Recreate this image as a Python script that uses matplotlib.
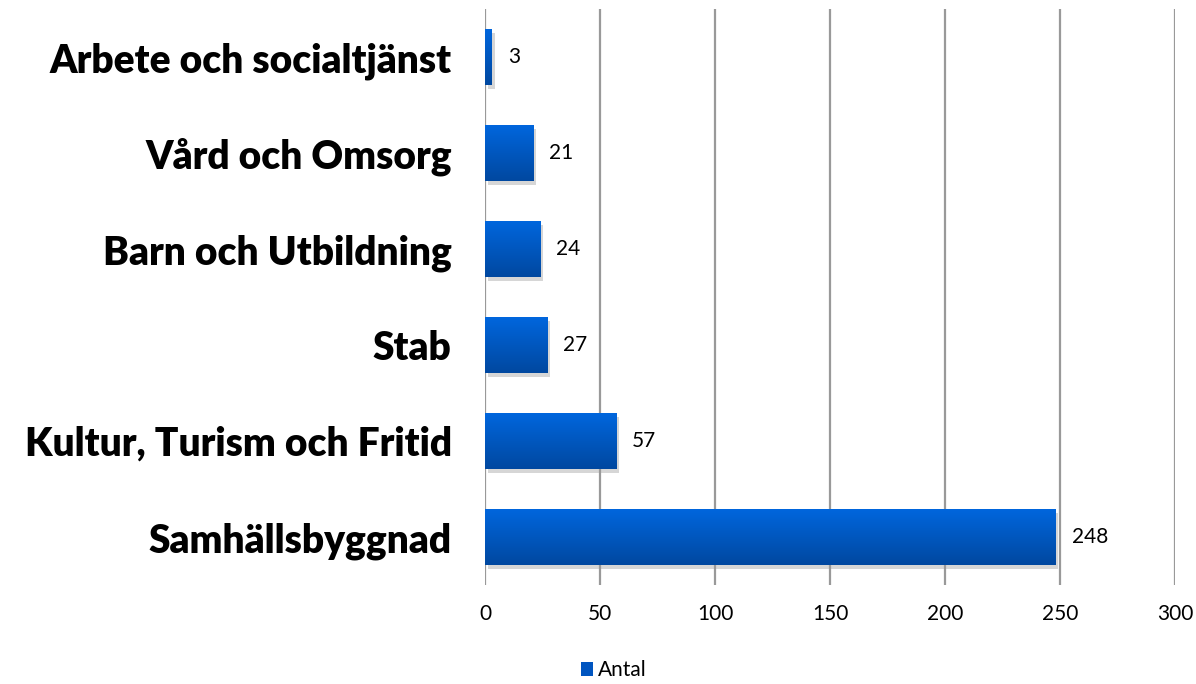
import numpy as np
import matplotlib.pyplot as plt
import matplotlib.patheffects as pe
from matplotlib.colors import LinearSegmentedColormap
from matplotlib.patches import Patch

# Data
categories = ['Samhällsbyggnad', 'Kultur, Turism och Fritid', 'Stab',
              'Barn och Utbildning', 'Vård och Omsorg', 'Arbete och socialtjänst']
values = [248, 57, 27, 24, 21, 3]
series_name = 'Antal'

plt.rcParams['font.family'] = ['Lato', 'DejaVu Sans']

fig = plt.figure(figsize=(11.96, 6.84), dpi=100)
ax = fig.add_axes([0.4055, 0.1447, 0.577, 0.842])

y = np.arange(len(categories))
bars = ax.barh(y, values, height=0.58, color='#0055c0', zorder=3,
               path_effects=[pe.SimplePatchShadow(offset=(2, -3), shadow_rgbFace='#999999', alpha=0.4),
                             pe.Normal()])

# gradient fill on each bar
cmap = LinearSegmentedColormap.from_list('blu', ['#0048a0', '#0066dd'])
grad = np.linspace(0, 1, 100).reshape(-1, 1)
for b in bars:
    x0, y0 = b.get_x(), b.get_y()
    w, h = b.get_width(), b.get_height()
    im = ax.imshow(grad, cmap=cmap, aspect='auto', origin='lower',
                   extent=[x0, x0 + w, y0, y0 + h], zorder=4)
    im.set_clip_path(b)

for yi, v in zip(y, values):
    ax.text(v + 7, yi, str(v), va='center', ha='left', fontsize=15, color='black', zorder=5)

ax.set_xlim(0, 300)
ax.set_ylim(-0.5, len(categories) - 0.5)
ax.set_xticks(np.arange(0, 301, 50))
ax.set_yticks(y)
ax.set_yticklabels(categories, fontsize=28, fontweight='heavy')
ax.tick_params(axis='x', labelsize=15, length=0, pad=14)
ax.tick_params(axis='y', length=0, pad=24)
ax.grid(axis='x', color='#999999', linewidth=1.6, zorder=1)
for s in ax.spines.values():
    s.set_visible(False)

# legend
fig.legend(handles=[Patch(facecolor='#0055c0', label=series_name)],
           loc='center', bbox_to_anchor=(0.513, 0.02), frameon=False,
           fontsize=15, handlelength=0.6, handleheight=0.6, handletextpad=0.2)

fig.savefig('out.png', dpi=100)
